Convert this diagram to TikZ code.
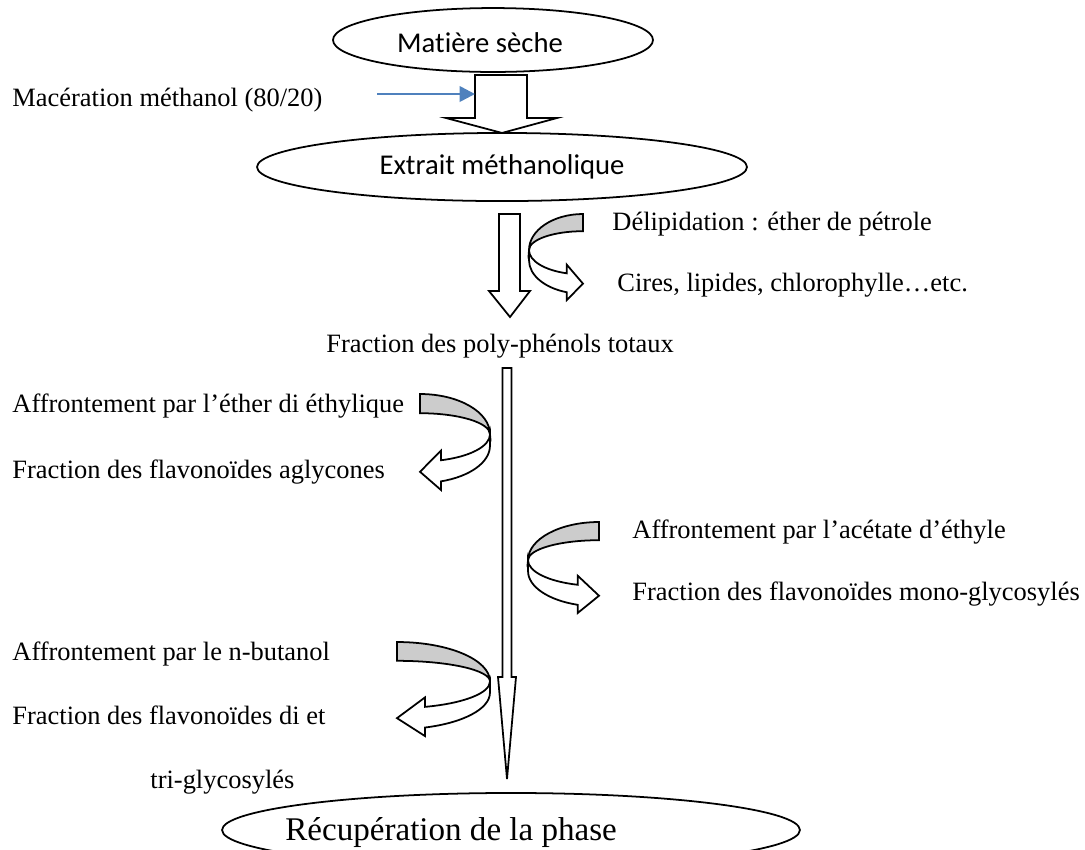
\documentclass[tikz,border=0pt]{standalone}
\usepackage{fontspec}
\setmainfont{Liberation Serif}
\newfontfamily\calibri[Ligatures=NoCommon]{Carlito}
\usetikzlibrary{arrows.meta,shapes.geometric}
\definecolor{macblue}{HTML}{4F81BD}

\begin{document}
\begin{tikzpicture}[x=0.4537pt,y=-0.4537pt,
    txt/.style={anchor=base west,inner sep=0pt,font=\fontsize{12}{14}\selectfont},
    oval/.style={ellipse,draw,line width=0.8pt,inner sep=0pt,outer sep=0pt},
    blockarr/.style={draw,fill=white,line width=0.8pt,line join=miter},
    turnback/.style={draw,fill=black!20,line width=0.8pt},
    turnfront/.style={draw,fill=white,line width=0.8pt,line join=miter}]
    \useasboundingbox (0,0) rectangle (1085,849);
    \clip (0,0) rectangle (1085,849);

    % ellipses
    \node[oval,minimum width=145.2pt,minimum height=29pt] (mat) at (493,40) {};
    \node[anchor=base,inner sep=0pt,font=\calibri\fontsize{13}{15}\selectfont] (matlbl) at (480,52) {Matière sèche};
    \node[oval,minimum width=222.3pt,minimum height=30.9pt,font=\calibri\fontsize{13}{15}\selectfont] (ext) at (502,167) {Extrait méthanolique};
    \node[oval,minimum width=262.2pt,minimum height=33.6pt] (rec) at (511,830) {};
    \node[txt,font=\fontsize{15}{17}\selectfont] (reclbl) at (285,840) {Récupération de la phase};

    % block arrows
    \draw[blockarr] (475,75) -- (475,118) -- (446,118) -- (ext.north) -- (557,118) -- (527,118) -- (527,75) -- cycle;
    \draw[blockarr] (499,214) -- (499,291) -- (489,291) -- (510,317) -- (530,291) -- (520,291) -- (520,214) -- cycle;
    \draw[blockarr] (502.5,368) -- (502.5,677) -- (498,677) -- (507,779) -- (516,677) -- (511.5,677) -- (511.5,368) -- cycle;

    % maceration
    \node[txt] (mac) at (12,106) {Macération méthanol (80/20)};
    \coordinate (macfrom) at (377,94);
    \coordinate (macto) at (475,94);
    \draw[macblue,line width=1.2pt,-{Triangle[length=7pt,width=7pt]}] (macfrom) -- (macto);

    % curved arrows
    \foreach \cx/\ty/\w/\h/\sg in {529/214/54/86/1, 490/394/70/96/-1, 528/522/71/91/1, 490/642/93/94/-1}{
      \begin{scope}[shift={(\cx,\ty)},xscale=\sg*\w,yscale=\h]
        \draw[turnback] (1,0) arc[start angle=-90,end angle=-180,x radius=1,y radius=0.42]
          arc[start angle=180,end angle=270,x radius=1,y radius=0.22] -- cycle;
        \draw[turnfront] (0,0.42) arc[start angle=180,end angle=107.5,x radius=1,y radius=0.283]
          -- (0.7,0.59) -- (1,0.81) -- (0.7,1) -- (0.7,0.91)
          arc[start angle=107.5,end angle=180,x radius=1,y radius=0.388] -- cycle;
      \end{scope}
    }

    % labels
    \node[txt] (delip) at (612,230) {Délipidation : éther de pétrole};
    \node[txt] (cires) at (617,291) {Cires, lipides, chlorophylle…etc.};
    \node[txt] (polyph) at (326,352) {Fraction des poly-phénols totaux};
    \node[txt] (ether) at (12,412) {Affrontement par l’éther di éthylique};
    \node[txt] (aglyc) at (12,478) {Fraction des flavonoïdes aglycones};
    \node[txt] (acet) at (632,538) {Affrontement par l’acétate d’éthyle};
    \node[txt] (mono) at (632,600) {Fraction des flavonoïdes mono-glycosylés};
    \node[txt] (butan) at (12,660) {Affrontement par le n-butanol};
    \node[txt] (diet) at (12,724) {Fraction des flavonoïdes di et};
    \node[txt] (trigly) at (150,788) {tri-glycosylés};
\end{tikzpicture}
\end{document}
